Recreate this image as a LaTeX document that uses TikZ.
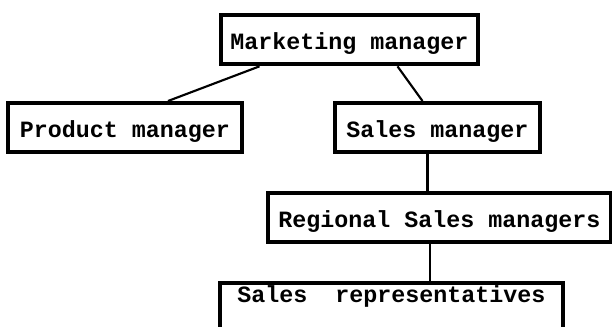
\documentclass[tikz,border=0pt]{standalone}
\usepackage{fontspec}
\setmonofont{Liberation Mono}
\usepackage{tikz}
\usetikzlibrary{calc}

\tikzset{
  box/.style={draw, line width=3pt, anchor=north, inner xsep=0pt, inner ysep=0pt,
    text height=26pt, text depth=11pt,
    font=\ttfamily\bfseries\fontsize{17.5}{20}\selectfont},
  link/.style={line width=1.6pt}
}

\begin{document}
\begin{tikzpicture}[x=0.75pt,y=0.75pt,yscale=-1,xscale=1]
\useasboundingbox (0,0) rectangle (612,326);

% Boxes
\node [box, minimum width=192.75pt] (mkt) at (349.5,13) {Marketing manager};
\node [box, minimum width=175.5pt] (prod) at (125,101) {Product manager};
\node [box, minimum width=153.75pt] (sales) at (437.5,101) {Sales manager};
\node [box, minimum width=257.25pt] (reg) at (439.5,191) {Regional Sales managers};
\node [box, minimum width=257.25pt, text height=14.5pt, text depth=60pt] (reps) at (391.5,281) {Sales~~representatives};

% Link points
\coordinate (salesfoot) at ($(sales.south)+(-10,0)$);
\coordinate (repshead) at ($(reps.north)+(38.5,0)$);

% Links
\draw [link] ($(mkt.south)+(-90,0)$) -- ($(prod.north)+(43,0)$);
\draw [link] ($(mkt.south)+(48,0)$) -- ($(sales.north)+(-15,0)$);
\draw [link] (salesfoot) -- (salesfoot |- reg.north);
\draw [link] (repshead) -- (repshead |- reg.south);

\end{tikzpicture}
\end{document}
